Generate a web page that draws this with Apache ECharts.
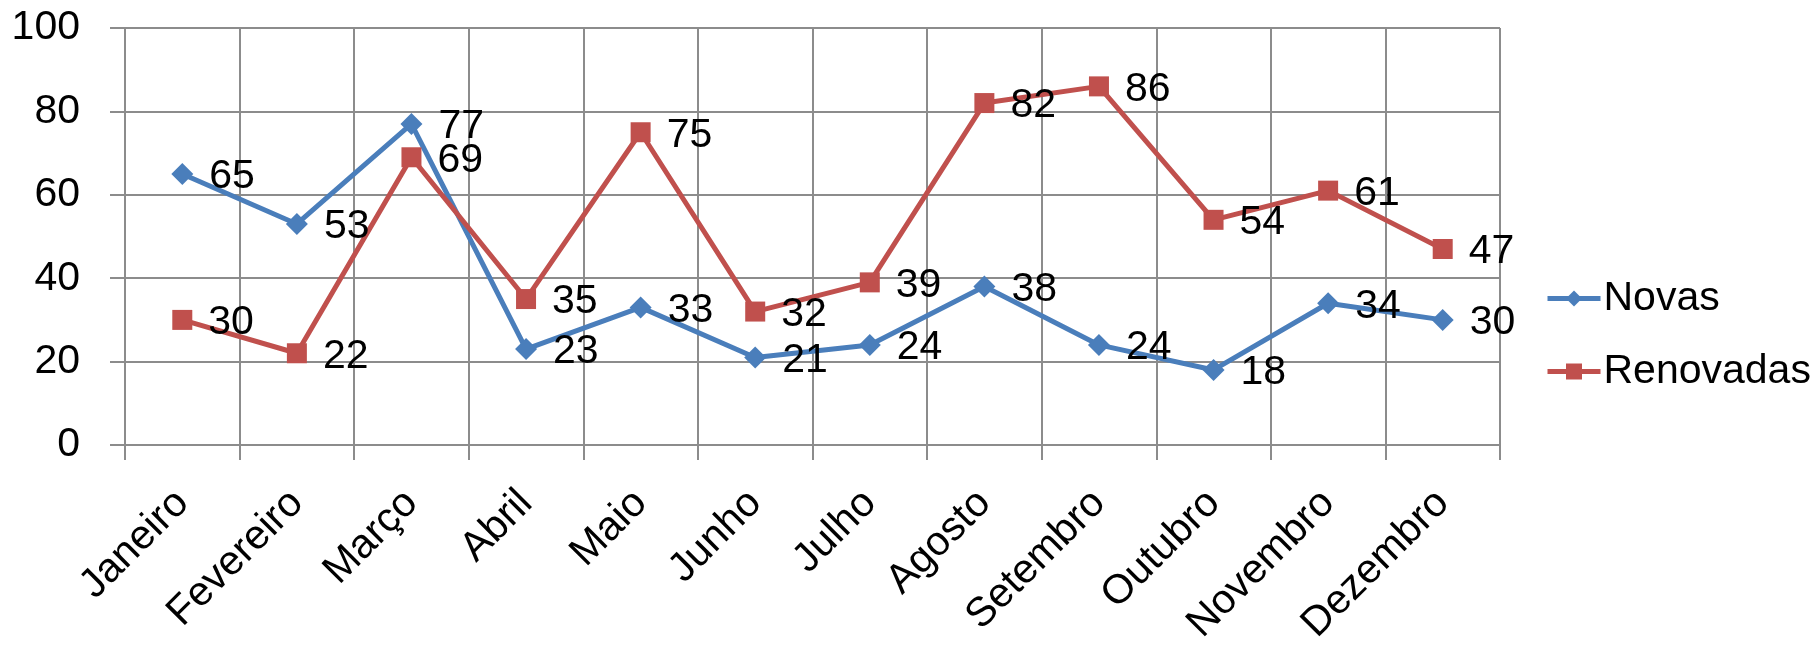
<!DOCTYPE html>
<html>
<head>
<meta charset="utf-8">
<script src="https://cdn.jsdelivr.net/npm/echarts@6/dist/echarts.min.js"></script>
<style>
  html, body { margin: 0; padding: 0; background: #fff; }
  #show_picture { width: 1812px; height: 651px; }
</style>
</head>
<body>
<div id="show_picture"></div>
<script>
const months = ['Janeiro', 'Fevereiro', 'Março', 'Abril', 'Maio', 'Junho',
    'Julho', 'Agosto', 'Setembro', 'Outubro', 'Novembro', 'Dezembro'];
const novas = [65, 53, 77, 23, 33, 21, 24, 38, 24, 18, 34, 30];
const renovadas = [30, 22, 69, 35, 75, 32, 39, 82, 86, 54, 61, 47];
const yTicks = { min: 0, max: 100, interval: 20 };

let myChart = echarts.init(document.getElementById('show_picture'));

const gridColor = '#8c8c8c';
const font = 'Liberation Sans, Arial, sans-serif';
const fs = 41;

function lineSeries(name, data, color, symbol) {
    return {
        name: name,
        type: 'line',
        data: data,
        symbol: symbol,
        symbolSize: symbol === 'diamond' ? 22 : 20,
        lineStyle: { color: color, width: 5 },
        itemStyle: { color: color },
        label: {
            show: true,
            position: 'right',
            distance: 16,
            offset: [0, 3],
            color: '#000',
            fontSize: fs,
            fontFamily: font
        }
    };
}

let option = {
    animation: false,
    grid: { left: 125, top: 28, right: 312, bottom: 206 },
    legend: {
        orient: 'vertical',
        left: 1540,
        top: 273,
        itemWidth: 53,
        itemHeight: 20,
        itemGap: 32,
        lineStyle: { width: 5 },
        textStyle: { fontSize: fs, fontFamily: font, color: '#000', padding: [0, 0, 0, -2] },
        data: ['Novas', 'Renovadas']
    },
    xAxis: {
        type: 'category',
        data: months,
        boundaryGap: true,
        axisLine: { show: true, lineStyle: { color: gridColor, width: 2 } },
        axisTick: { show: true, length: 15, lineStyle: { color: gridColor, width: 2 } },
        splitLine: { show: true, lineStyle: { color: gridColor, width: 2 } },
        axisLabel: {
            rotate: 45,
            margin: 52,
            interval: 0,
            fontSize: fs,
            fontFamily: font,
            color: '#000'
        }
    },
    yAxis: {
        type: 'value',
        min: yTicks.min,
        max: yTicks.max,
        interval: yTicks.interval,
        axisLine: { show: true, lineStyle: { color: gridColor, width: 2 } },
        axisTick: { show: true, length: 15, lineStyle: { color: gridColor, width: 2 } },
        splitLine: { show: true, lineStyle: { color: gridColor, width: 2 } },
        axisLabel: { margin: 45, fontSize: fs, fontFamily: font, color: '#000' }
    },
    series: [
        lineSeries('Novas', novas, '#4a7ebb', 'diamond'),
        lineSeries('Renovadas', renovadas, '#c0504d', 'rect')
    ]
};

option && myChart.setOption(option);
</script>
</body>
</html>
